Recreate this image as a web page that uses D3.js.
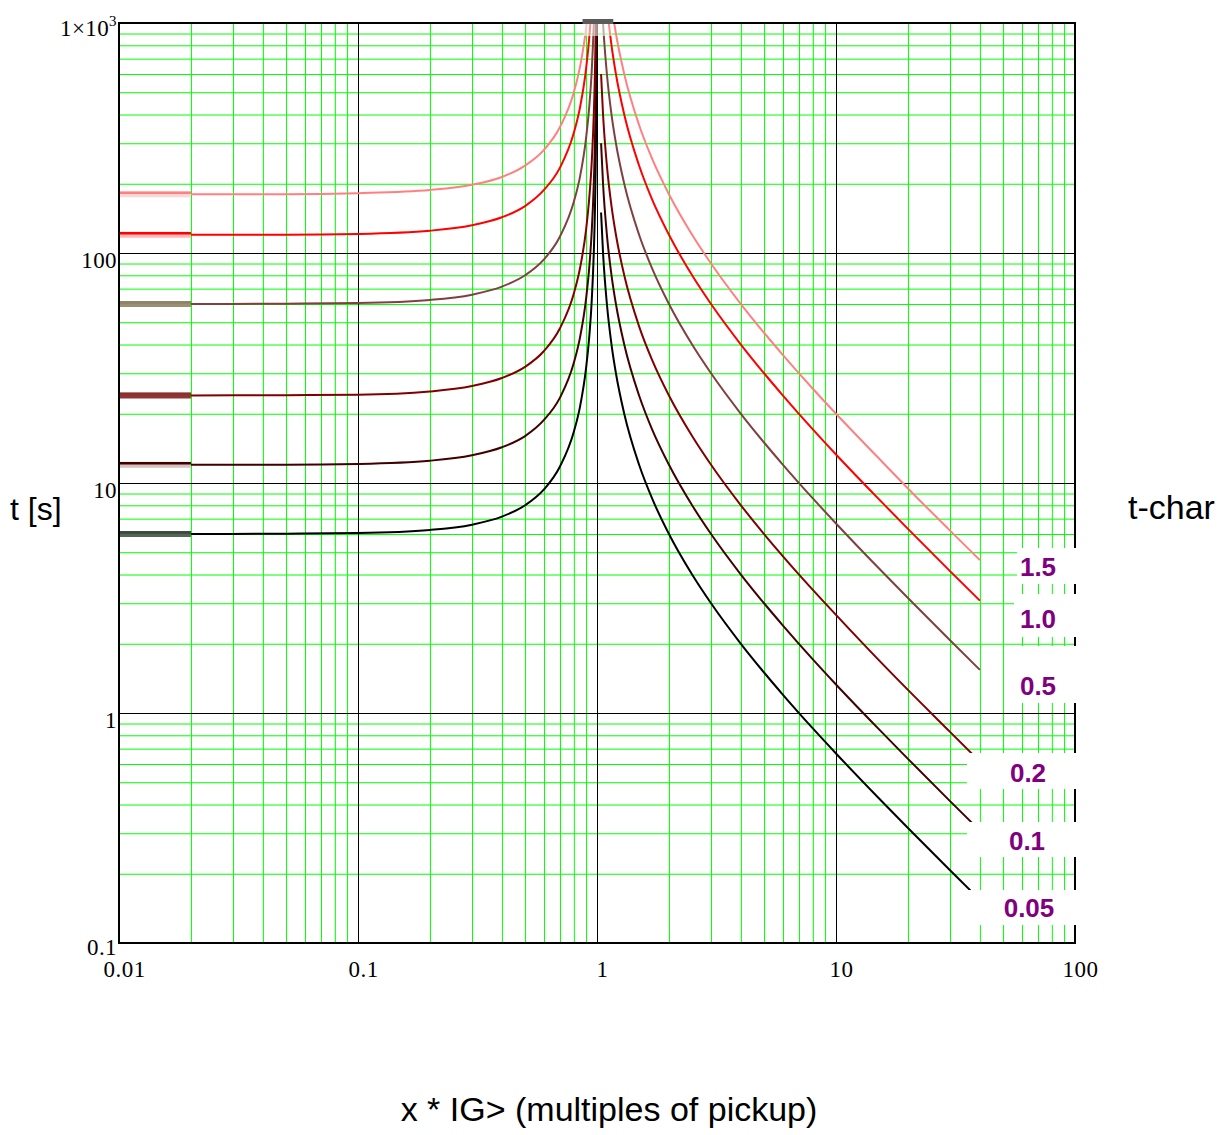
<!DOCTYPE html>
<html>
<head>
<meta charset="utf-8">
<script src="https://cdn.jsdelivr.net/npm/d3@7"></script>
<style>
body{margin:0;background:#fff;}
</style>
</head>
<body>
<div class="container"></div>
<script>
// curve names (t-char setting), lowest first
var tchar = ["0.05", "0.1", "0.2", "0.5", "1.0", "1.5"];

// x < 1 branch (reset part)
var xLeft = [0.02, 0.05, 0.1, 0.2, 0.3, 0.4, 0.5, 0.6, 0.7, 0.8, 0.85, 0.9, 0.93, 0.95, 0.97, 0.98, 0.99, 0.995, 0.998];
var left005 = [6.00, 6.02, 6.06, 6.25, 6.59, 7.14, 8.00, 9.38, 11.8, 16.7, 21.6, 31.6, 44.4, 61.5, 102, 152, 302, 602, 1502];
var left01  = [12.0, 12.0, 12.1, 12.5, 13.2, 14.3, 16.0, 18.8, 23.5, 33.3, 43.2, 63.2, 88.8, 123, 203, 303, 603, 1203, 3003];
var left02  = [24.0, 24.1, 24.2, 25.0, 26.4, 28.6, 32.0, 37.5, 47.1, 66.7, 86.5, 126, 178, 246, 406, 606, 1206, 2406, 6006];
var left05  = [60.0, 60.2, 60.6, 62.5, 65.9, 71.4, 80.0, 93.8, 118, 167, 216, 316, 444, 615, 1015, 1515, 3015, 6015, 15015];
var left10  = [120, 120, 121, 125, 132, 143, 160, 188, 235, 333, 432, 632, 888, 1231, 2030, 3030, 6030, 12030, 30030];
var left15  = [180, 180, 182, 188, 198, 214, 240, 281, 353, 500, 649, 947, 1332, 1846, 3046, 4545, 9045, 18045, 45045];

// x > 1 branch (trip part)
var xRight = [1.04, 1.06, 1.1, 1.15, 1.2, 1.3, 1.5, 1.7, 2, 2.5, 3, 4, 5, 6, 8, 10, 15, 20, 30, 40];
var right005 = [150, 100, 60, 40, 30, 20, 12, 8.57, 6, 4, 3, 2, 1.5, 1.2, 0.857, 0.667, 0.429, 0.316, 0.207, 0.154];
var right01  = [300, 200, 120, 80, 60, 40, 24, 17.1, 12, 8, 6, 4, 3, 2.4, 1.71, 1.33, 0.857, 0.632, 0.414, 0.308];
var right02  = [600, 400, 240, 160, 120, 80, 48, 34.3, 24, 16, 12, 8, 6, 4.8, 3.43, 2.67, 1.71, 1.26, 0.828, 0.615];
var right05  = [1500, 1000, 600, 400, 300, 200, 120, 85.7, 60, 40, 30, 20, 15, 12, 8.57, 6.67, 4.29, 3.16, 2.07, 1.54];
var right10  = [3000, 2000, 1200, 800, 600, 400, 240, 171, 120, 80, 60, 40, 30, 24, 17.1, 13.3, 8.57, 6.32, 4.14, 3.08];
var right15  = [4500, 3000, 1800, 1200, 900, 600, 360, 257, 180, 120, 90, 60, 45, 36, 25.7, 20, 12.9, 9.47, 6.21, 4.62];

var xStart = 0.01;
var xTicks = [0.01, 0.1, 1, 10, 100];
var yTicks = [0.1, 1, 10, 100, 1000];

var leftSeries = [left005, left01, left02, left05, left10, left15];
var rightSeries = [right005, right01, right02, right05, right10, right15];

// styles
var colors = ["#000000", "#400000", "#800000", "#804040", "#ff0000", "#ff8080"];
var segColors = ["#566656", "#d8c0c0", "#903434", "#9a9070", "#ffb8b8", "#ffd6d6"];
var segTop = ["#3a4a3a", "#400000", "#8a3030", "#8c8468", "#ff0000", "#ff8080"];

var width = 1231, height = 1135;
var plot = {left: 119, right: 1075, top: 23, bottom: 943};

var svg = d3.select(".container").append("svg").attr("width", width).attr("height", height);

var x = d3.scaleLog().domain([0.01, 100]).range([plot.left, plot.right]);
var y = d3.scaleLog().domain([0.1, 1000]).range([plot.bottom, plot.top]);

// grid values
var minorX = [], minorY = [];
[0.01, 0.1, 1, 10].forEach(function(d){ for (var m = 2; m <= 9; m++) minorX.push(d * m); });
[0.1, 1, 10, 100].forEach(function(d){ for (var m = 2; m <= 9; m++) minorY.push(d * m); });

var plotH = plot.bottom - plot.top, plotW = plot.right - plot.left;

function gridLines(axis, tr, col, w){
    var g = svg.append("g").attr("transform", tr).call(axis);
    g.select(".domain").remove();
    g.selectAll("line").attr("stroke", col).attr("stroke-width", w);
    g.selectAll("text").remove();
}
gridLines(d3.axisBottom(x).tickValues(minorX).tickSize(-plotH).tickFormat(""), "translate(0," + plot.bottom + ")", "#00ff00", 1);
gridLines(d3.axisLeft(y).tickValues(minorY).tickSize(-plotW).tickFormat(""), "translate(" + plot.left + ",0)", "#00ff00", 1);
gridLines(d3.axisBottom(x).tickValues(xTicks).tickSize(-plotH).tickFormat(""), "translate(0," + plot.bottom + ")", "#000", 1);
gridLines(d3.axisLeft(y).tickValues(yTicks).tickSize(-plotW).tickFormat(""), "translate(" + plot.left + ",0)", "#000", 1);

svg.append("clipPath").attr("id", "clip").append("rect")
    .attr("x", plot.left).attr("y", plot.top).attr("width", plotW).attr("height", plotH);

var line = d3.line()
    .x(function(d){ return x(d[0]); })
    .y(function(d){ return y(d[1]); })
    .curve(d3.curveMonotoneX);

var curves = svg.append("g").attr("clip-path", "url(#clip)");

for (var i = 0; i < tchar.length; i++) {
    var L = xLeft.map(function(v, j){ return [v, leftSeries[i][j]]; });
    var R = xRight.map(function(v, j){ return [v, rightSeries[i][j]]; });
    curves.append("path").attr("d", line(L)).attr("fill", "none")
        .attr("stroke", colors[i]).attr("stroke-width", 2);
    curves.append("path").attr("d", line(R)).attr("fill", "none")
        .attr("stroke", colors[i]).attr("stroke-width", 2);
    // thick start piece 0.01 .. 0.02
    var seg = [[xStart, leftSeries[i][0]], [xLeft[0], leftSeries[i][0]]];
    curves.append("path").attr("d", line(seg)).attr("fill", "none")
        .attr("stroke", segColors[i]).attr("stroke-width", 6);
    curves.append("path").attr("d", line(seg)).attr("fill", "none")
        .attr("transform", "translate(0,-1.5)")
        .attr("stroke", segTop[i]).attr("stroke-width", 2.5);
}

// frame
svg.append("rect").attr("x", plot.left).attr("y", plot.top).attr("width", plotW).attr("height", plotH)
    .attr("fill", "none").attr("stroke", "#000").attr("stroke-width", 2);

// smudge at the top near x = 1
svg.append("rect").attr("x", x(0.87)).attr("y", plot.top - 4).attr("width", x(1.17) - x(0.87)).attr("height", 5)
    .attr("fill", "#5a5a5a");
svg.append("rect").attr("x", x(0.88)).attr("y", plot.top + 1).attr("width", x(1.16) - x(0.88)).attr("height", 12)
    .attr("fill", "#fff").attr("opacity", 0.55);

// label boxes (white, drawn over the grid and the curve ends)
var boxes = [
    {x0: 967, x1: 1080, y0: 890, y1: 925, cx: 1029, by: 917},
    {x0: 967, x1: 1080, y0: 822, y1: 857, cx: 1027, by: 850},
    {x0: 967, x1: 1080, y0: 753, y1: 789, cx: 1028, by: 782},
    {x0: 1017, x1: 1080, y0: 646, y1: 703, cx: 1038, by: 695},
    {x0: 1014, x1: 1080, y0: 594, y1: 637, cx: 1038, by: 628},
    {x0: 1017, x1: 1080, y0: 548, y1: 584, cx: 1038, by: 576}
];
boxes.forEach(function(b, i){
    svg.append("rect").attr("x", b.x0).attr("y", b.y0).attr("width", b.x1 - b.x0).attr("height", b.y1 - b.y0)
        .attr("fill", "#fff");
    svg.append("text").attr("x", b.cx).attr("y", b.by).attr("text-anchor", "middle")
        .attr("font-family", "'Liberation Sans', Arial, sans-serif").attr("font-weight", "bold")
        .attr("font-size", 26).attr("fill", "#800080").text(tchar[i]);
});

// tick labels
var fmt = d3.format("~g");
var serif = "'Liberation Serif', 'Times New Roman', serif";
var xAx = svg.append("g").attr("transform", "translate(0," + plot.bottom + ")")
    .call(d3.axisBottom(x).tickValues(xTicks).tickSize(0).tickFormat(fmt));
xAx.select(".domain").remove();
xAx.selectAll("text").attr("y", 34).attr("dy", 0).attr("x", 5)
    .attr("font-family", serif).attr("font-size", 23)
    .attr("letter-spacing", 0.5).attr("fill", "#000");

var yAx = svg.append("g").attr("transform", "translate(" + plot.left + ",0)")
    .call(d3.axisLeft(y).tickValues(yTicks).tickSize(0).tickFormat(function(d){ return d === 1000 ? "1\u00d710" : fmt(d); }));
yAx.select(".domain").remove();
yAx.selectAll("text").attr("x", -2).attr("y", function(d){ return d === 0.1 ? 11 : 14; }).attr("dy", 0)
    .attr("font-family", serif).attr("font-size", 23)
    .attr("letter-spacing", 0.4).attr("fill", "#000");
yAx.selectAll(".tick").filter(function(d){ return d === 1000; }).select("text")
    .attr("y", 12)
    .append("tspan").attr("dy", -10).attr("font-size", 15).text("3");

// axis titles
var sans = "'Liberation Sans', Arial, sans-serif";
svg.append("text").attr("x", 10).attr("y", 520).attr("font-family", sans).attr("font-size", 32).text("t [s]");
svg.append("text").attr("x", 1128).attr("y", 519).attr("font-family", sans).attr("font-size", 34).text("t-char");
svg.append("text").attr("x", 609).attr("y", 1121).attr("text-anchor", "middle")
    .attr("font-family", sans).attr("font-size", 34).text("x * IG> (multiples of pickup)");
</script>
</body>
</html>
